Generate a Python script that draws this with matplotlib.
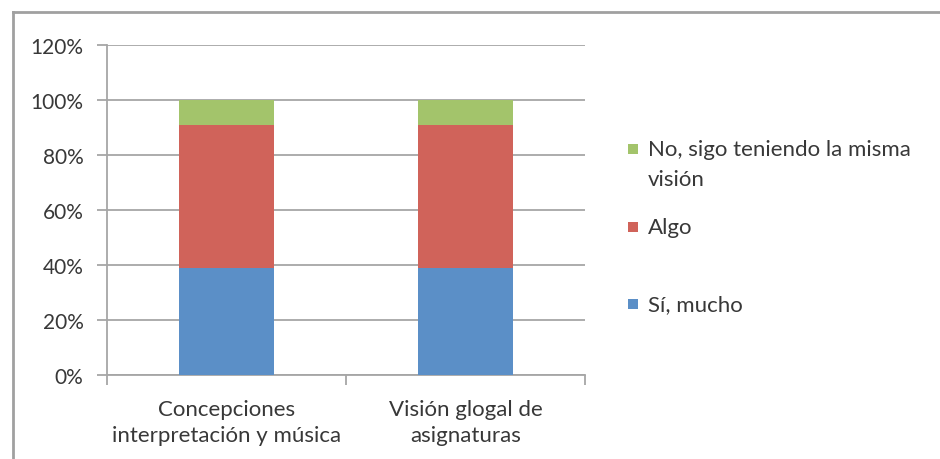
import matplotlib
matplotlib.use("Agg")
import matplotlib.pyplot as plt
from matplotlib.lines import Line2D
from matplotlib.patches import Rectangle
import numpy as np

plt.rcParams['font.family'] = ['Lato', 'DejaVu Sans']

categories = ["Concepciones\ninterpretación y música", "Visión glogal de\nasignaturas"]
series_names = ["Sí, mucho", "Algo", "No, sigo teniendo la misma\nvisión"]
series_values = [
    [39, 39],   # Sí, mucho
    [52, 52],   # Algo
    [9, 9],     # No, sigo teniendo la misma visión
]
series_colors = ["#5b8fc7", "#d0635a", "#a3c46b"]
y_ticks = [0, 20, 40, 60, 80, 100, 120]

fig = plt.figure(figsize=(9.4, 4.6), dpi=100)
ax = fig.add_axes([107 / 940, 1 - 376 / 460, (585 - 107) / 940, (376 - 46) / 460])

grid_color = "#a6a6a6"
text_color = "#383838"

x = np.arange(len(categories))
bottom = np.zeros(len(categories))
for vals, color in zip(series_values, series_colors):
    ax.bar(x, vals, width=0.4, bottom=bottom, color=color, zorder=3, linewidth=0)
    bottom += np.array(vals)

ax.set_xlim(-0.5, len(categories) - 0.5)
ax.set_ylim(0, 120)
ax.set_yticks(y_ticks)
ax.set_yticklabels([f"{v}%" for v in y_ticks])
ax.yaxis.grid(True, color=grid_color, linewidth=1.3, zorder=0)
ax.set_axisbelow(True)

for side in ["top", "right"]:
    ax.spines[side].set_visible(False)
for side in ["left", "bottom"]:
    ax.spines[side].set_color(grid_color)
    ax.spines[side].set_linewidth(1.3)

ax.tick_params(axis="y", length=7, width=1.3, color=grid_color, pad=10,
               labelsize=15, labelcolor=text_color)
# category ticks sit at the boundaries between groups
ax.set_xticks(np.arange(-0.5, len(categories)), minor=False)
ax.set_xticklabels([""] * (len(categories) + 1))
ax.tick_params(axis="x", length=7, width=1.3, color=grid_color)
for xi, label in zip(x, categories):
    ax.text(xi, -0.073, label, transform=ax.get_xaxis_transform(),
            ha="center", va="top", fontsize=16, color=text_color,
            linespacing=1.36)

# legend drawn top-down
legend_items = list(zip(series_names, series_colors))[::-1]
first_line_y = [150, 228, 305]
for (name, color), ypix in zip(legend_items, first_line_y):
    yf = 1 - ypix / 460
    fig.patches.append(Rectangle((628 / 940, yf - 5 / 460), 10 / 940, 10 / 460,
                                 transform=fig.transFigure, facecolor=color,
                                 edgecolor="none"))
    fig.text(648 / 940, yf + 10 / 460, name, ha="left", va="top",
             fontsize=16, color=text_color, linespacing=1.65)

# outer chart frame (left and top edges)
frame_kw = dict(transform=fig.transFigure, color="#a0a0a0", linewidth=2)
fig.lines.append(Line2D([13 / 940, 13 / 940], [0, 1 - 13 / 460], **frame_kw))
fig.lines.append(Line2D([13 / 940, 1], [1 - 13 / 460, 1 - 13 / 460], **frame_kw))

fig.savefig("out.png", dpi=100)
